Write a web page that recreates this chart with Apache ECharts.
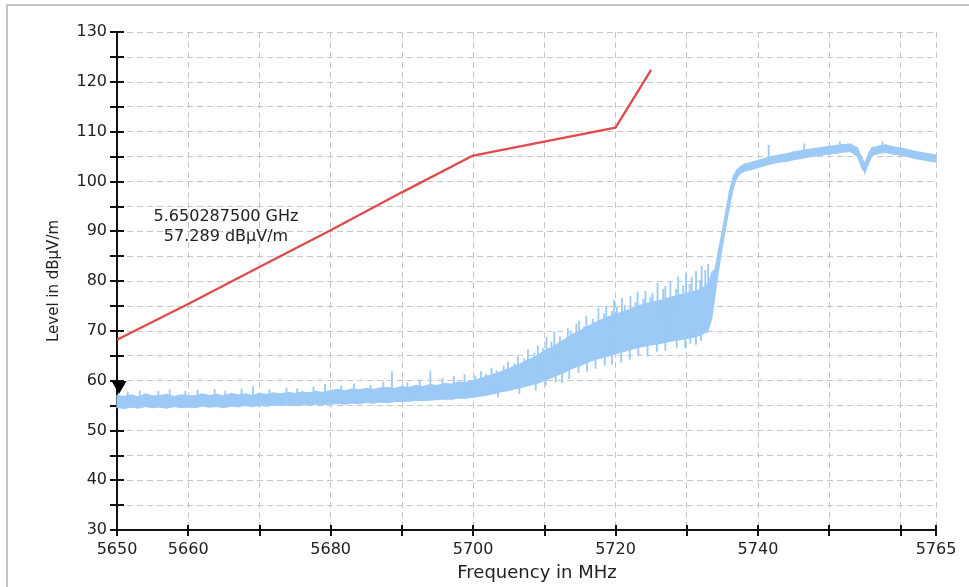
<!DOCTYPE html>
<html><head><meta charset="utf-8">
<script src="https://cdn.jsdelivr.net/npm/echarts@6/dist/echarts.min.js"></script>
<style>html,body{margin:0;padding:0;background:#fff}#c{width:969px;height:587px}</style>
</head><body><div id="c"></div>
<script>
// ---- data ----
const xTickLabels = [5650, 5660, 5680, 5700, 5720, 5740, 5765];
const yTickLabels = [30, 40, 50, 60, 70, 80, 90, 100, 110, 120, 130];

// limit line (red)
const limitFreq  = [5650, 5660, 5670, 5680, 5690, 5700, 5710, 5720, 5725];
const limitLevel = [68.2, 75.4, 82.8, 90.2, 97.8, 105.2, 108.0, 110.8, 122.4];

// measured trace (blue) as min / max envelope per frequency bin
const traceFreq = [
  5650,5651,5652,5653,5654,5655,5656,5657,5658,5659,
  5660,5661,5662,5663,5664,5665,5666,5667,5668,5669,
  5670,5671,5672,5673,5674,5675,5676,5677,5678,5679,
  5680,5681,5682,5683,5684,5685,5686,5687,5688,5689,
  5690,5691,5692,5693,5694,5695,5696,5697,5698,5699,
  5700,5701,5702,5703,5704,5705,5706,5707,5708,5709,
  5710,5711,5712,5713,5714,5715,5716,5717,5718,5719,
  5720,5721,5722,5723,5724,5725,5726,5727,5728,5729,
  5730,5731,5732,5733,5733.5,5734,5734.5,5735,5735.5,5736,
  5736.5,5737,5737.5,5738,5739,5740,5741,5742,5743,5744,
  5745,5746,5747,5748,5749,5750,5751,5752,5753,5754,
  5754.5,5755,5755.5,5756,5757,5758,5759,5760,5761,5762,
  5763,5764,5765
];
const traceLow = [
  54.6,54.4,54.7,54.5,54.8,54.6,54.7,54.5,54.8,54.6,
  54.7,54.6,54.9,54.7,54.8,54.6,54.9,54.8,55.0,54.8,
  55.0,54.9,55.1,55.0,55.1,55.0,55.2,55.1,55.3,55.2,
  55.3,55.4,55.3,55.5,55.4,55.6,55.5,55.7,55.6,55.8,
  55.8,55.9,56.0,56.0,56.1,56.2,56.3,56.3,56.5,56.5,
  56.7,56.9,57.1,57.4,57.8,58.0,58.4,58.7,59.1,59.5,
  60.0,60.6,61.2,61.8,62.5,63.0,63.6,64.2,64.6,65.0,
  65.4,65.8,66.2,66.6,66.9,67.2,67.4,67.7,68.0,68.2,
  68.5,68.7,69.2,70.0,72.5,77.5,82.5,87.0,91.0,95.0,
  98.5,100.6,101.6,102.0,102.4,102.8,103.2,103.6,103.9,104.0,
  104.4,104.6,104.9,105.1,105.3,105.5,105.7,105.9,106.0,105.0,
  103.0,101.8,103.5,105.2,105.7,105.8,105.5,105.3,105.0,104.6,
  104.4,104.1,103.9
];
const traceHigh = [
  57.0,56.8,57.1,56.7,57.3,56.9,57.0,57.2,56.8,57.1,
  57.0,56.9,57.3,57.0,57.2,56.9,57.4,57.1,57.3,57.0,
  57.4,57.2,57.5,57.3,57.6,57.4,57.7,57.5,57.8,57.6,
  58.0,58.2,57.9,58.3,58.1,58.4,58.2,58.5,58.6,58.4,
  58.8,58.6,59.0,58.8,59.2,59.0,59.4,59.3,59.7,59.6,
  60.0,60.4,60.9,61.3,61.8,62.4,63.0,63.6,64.3,65.0,
  66.0,66.6,67.5,68.4,69.3,70.0,70.8,71.5,72.2,72.8,
  73.3,73.8,74.3,74.9,75.3,75.7,76.0,76.4,76.8,77.2,
  77.5,77.9,78.3,79.5,81.5,82.5,86.5,90.0,94.0,98.0,
  100.8,102.2,102.9,103.4,103.8,104.2,104.6,105.0,105.3,105.5,
  105.9,106.1,106.4,106.6,106.8,107.0,107.2,107.4,107.5,106.6,
  104.9,103.6,105.4,106.7,107.1,107.3,106.9,106.7,106.4,106.0,
  105.8,105.5,105.3
];
// narrow spikes of the trace (frequency, level)
const spikeFreq = [
  5651.5,5653.2,5655.8,5657.4,5659.6,5661.3,5663.7,5665.2,5667.5,5669.1,
  5671.4,5673.8,5675.3,5677.6,5679.2,5681.5,5683.3,5685.6,5687.4,5688.6,
  5690.8,5692.5,5694.0,5695.7,5697.3,5698.8,
  5700.3,5701.1,5701.8,5702.6,5703.3,5704.3,5704.9,5705.8,5706.3,5707.2,
  5707.7,5708.6,5709.1,5709.8,5710.3,5711.0,5711.4,5712.2,5713.3,5713.7,
  5714.5,5714.9,5715.6,5715.9,5716.8,5717.6,5718.4,5718.7,5719.5,5719.8,
  5720.2,5720.9,5721.3,5722.1,5722.8,5723.1,5723.9,5724.2,5724.9,5725.2,
  5725.9,5726.7,5727.0,5727.7,5728.5,5728.8,5729.5,5729.9,5730.4,5730.7,
  5731.3,5731.9,5732.1,5732.6,5733.0,
  5703.5,5706.5,5708.8,5710.2,5711.6,5712.5,5713.5,5714.8,5716.0,5717.2,
  5718.5,5719.5,5720.8,5722.0,5723.2,5724.5,5725.8,5727.0,5728.6,5729.8,
  5730.5,5731.3,5732.0,
  5741.5,5746.5,5751.5,5757.5
];
const spikeLevel = [
  57.8,58.0,57.9,58.2,57.9,58.1,58.3,58.0,58.4,58.9,
  58.3,58.6,58.4,58.8,59.3,59.0,59.4,59.1,59.8,61.9,
  59.6,60.2,62.0,60.5,60.9,61.3,
  61.0,61.9,61.4,62.6,62.1,63.0,63.8,63.5,64.8,64.5,
  66.3,65.6,67.0,66.5,68.8,67.8,69.8,68.9,70.5,69.8,
  71.4,72.0,70.9,73.0,72.4,74.6,73.5,75.0,74.0,76.2,
  74.8,76.6,75.2,77.0,75.8,77.9,76.4,78.0,76.8,77.6,
  79.6,78.4,79.0,80.0,78.4,80.9,79.1,81.6,79.4,80.8,
  82.0,80.2,83.0,82.2,83.4,
  56.6,57.3,58.0,59.0,59.6,59.5,60.3,61.6,61.8,62.4,
  63.0,63.2,63.6,64.2,65.0,64.8,65.8,66.0,66.6,66.5,
  67.4,67.2,68.0,
  107.3,107.6,108.0,108.0
];

// marker
const markerFreq = 5650.2875;
const markerLevel = 57.289;

// ---- build series data ----
const blue = '#9cc9f6';
const red = '#e04a4a';
const bandData = traceFreq.slice(0, -1).map((f, i) =>
  [f, traceLow[i], traceHigh[i], traceFreq[i + 1], traceLow[i + 1], traceHigh[i + 1]]);
function bandMid(f) {
  let k = 0;
  for (let i = 0; i < traceFreq.length; i++) if (Math.abs(traceFreq[i] - f) < Math.abs(traceFreq[k] - f)) k = i;
  return (traceLow[k] + traceHigh[k]) / 2;
}
const spikeData = [];
spikeFreq.forEach((f, i) => {
  spikeData.push([f, bandMid(f)], [f, spikeLevel[i]], [f, '-']);
});

const FONT = 'DejaVu Sans';
const chart = echarts.init(document.getElementById('c'), null, {renderer: 'canvas'});
const gridLine = {show: true, lineStyle: {color: '#c6c6c6', type: [6, 4], width: 1}};
chart.setOption({
  animation: false,
  backgroundColor: '#fff',
  grid: {left: 117, top: 32, right: 33, bottom: 55, containLabel: false},
  xAxis: [{
    type: 'value', min: 5650, max: 5765, interval: 10,
    name: 'Frequency in MHz', nameLocation: 'middle', nameGap: 34,
    nameTextStyle: {fontFamily: FONT, fontSize: 18, color: '#222', padding: [0, 0, 0, 21]},
    axisLine: {show: true, onZero: false, lineStyle: {color: '#111', width: 2}},
    axisTick: {show: true, length: 6, lineStyle: {color: '#111', width: 2}},
    axisLabel: {fontFamily: FONT, fontSize: 16, color: '#222', margin: 12,
      formatter: v => xTickLabels.includes(v) ? String(v) : ''},
    splitLine: gridLine
  }, {
    type: 'value', min: 5650, max: 5765, interval: 10, position: 'bottom',
    axisLine: {show: false}, axisLabel: {show: false}, splitLine: {show: false},
    axisTick: {show: true, inside: true, length: 5, lineStyle: {color: '#111', width: 2}}
  }],
  yAxis: [{
    type: 'value', min: 30, max: 130, interval: 5,
    name: 'Level in dBµV/m', nameLocation: 'middle', nameGap: 55, nameRotate: 90,
    nameTextStyle: {fontFamily: FONT, fontSize: 15, color: '#222'},
    axisLine: {show: true, onZero: false, lineStyle: {color: '#111', width: 2}},
    axisTick: {show: true, length: 7, lineStyle: {color: '#111', width: 2}},
    axisLabel: {fontFamily: FONT, fontSize: 16, color: '#222', margin: 10,
      formatter: v => yTickLabels.includes(v) ? String(v) : ''},
    splitLine: gridLine
  }, {
    type: 'value', min: 30, max: 130, interval: 5, position: 'left',
    axisLine: {show: false}, axisLabel: {show: false}, splitLine: {show: false},
    axisTick: {show: true, inside: true, length: 7, lineStyle: {color: '#111', width: 2}}
  }],
  series: [
    {type: 'custom', name: 'trace', data: bandData, z: 2, silent: true,
      encode: {x: [0, 3], y: [1, 2, 4, 5]},
      renderItem: (params, api) => {
        const p1 = api.coord([api.value(0), api.value(1)]);
        const p2 = api.coord([api.value(0), api.value(2)]);
        const p3 = api.coord([api.value(3), api.value(5)]);
        const p4 = api.coord([api.value(3), api.value(4)]);
        return {type: 'polygon', shape: {points: [p1, p2, p3, p4]},
          style: {fill: blue, stroke: blue, lineWidth: 1.2}};
      }},
    {type: 'line', name: 'spikes', data: spikeData, symbol: 'none', connectNulls: false,
      lineStyle: {color: blue, width: 1.8}, z: 3, silent: true},
    {type: 'line', name: 'limit', data: limitFreq.map((f, i) => [f, limitLevel[i]]), symbol: 'none',
      lineStyle: {color: red, width: 2.3}, z: 4, silent: true},
    {type: 'scatter', name: 'marker', data: [[markerFreq, markerLevel]], symbol: 'triangle',
      symbolSize: [15, 13], symbolRotate: 180, symbolOffset: [0, -6.5],
      itemStyle: {color: '#000', opacity: 1}, z: 6, silent: true}
  ],
  graphic: [
    {type: 'rect', shape: {x: 7, y: 5, width: 975, height: 600}, z: -10, silent: true,
      style: {fill: 'none', stroke: '#c4c4c4', lineWidth: 2}},
    {type: 'text', x: 226, y: 217, z: 10, silent: true,
      style: {text: (markerFreq / 1000).toFixed(9) + ' GHz', font: '16px "DejaVu Sans"', fill: '#222',
        textAlign: 'center', textVerticalAlign: 'middle'}},
    {type: 'text', x: 226, y: 237, z: 10, silent: true,
      style: {text: markerLevel.toFixed(3) + ' dBµV/m', font: '16px "DejaVu Sans"', fill: '#222',
        textAlign: 'center', textVerticalAlign: 'middle'}}
  ]
});
</script>
</body></html>
